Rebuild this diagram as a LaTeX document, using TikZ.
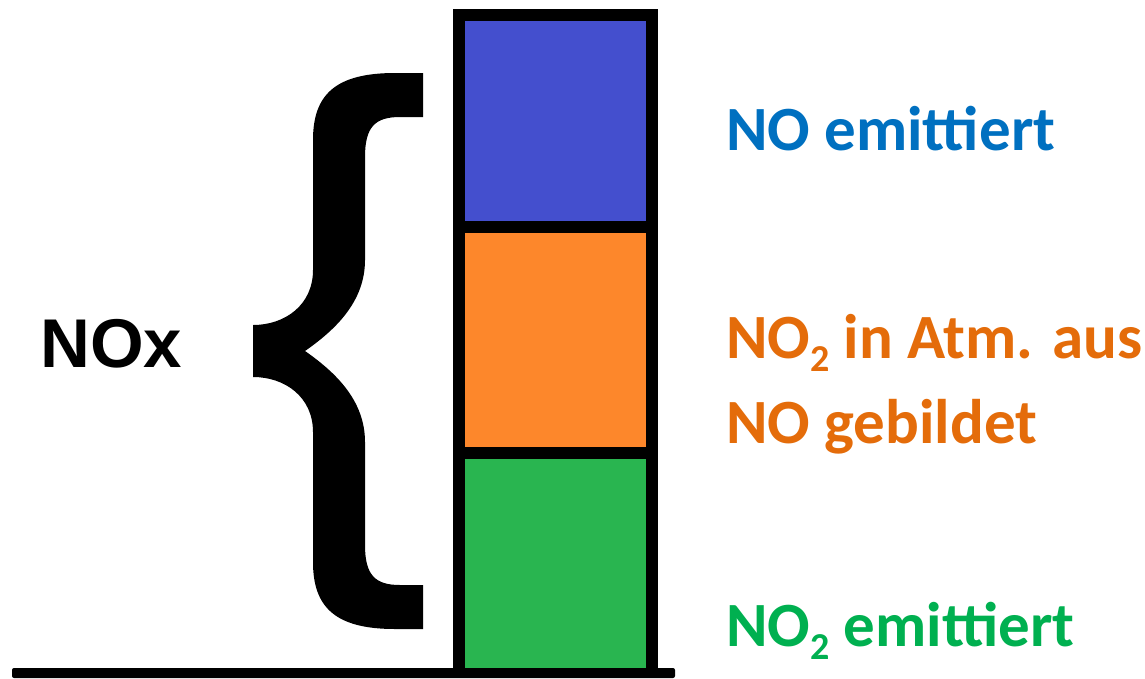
\documentclass[tikz,border=0pt]{standalone}
\usepackage{fontspec}
\setmainfont{Carlito}
\newfontfamily\arialfont{Liberation Sans}
\definecolor{boxblue}{RGB}{68,79,206}
\definecolor{boxorange}{RGB}{253,135,43}
\definecolor{boxgreen}{RGB}{41,181,80}
\definecolor{txtblue}{RGB}{0,112,192}
\definecolor{txtorange}{RGB}{228,108,10}
\definecolor{txtgreen}{RGB}{0,176,80}
\newcommand{\subtwo}{\raisebox{-0.22em}{\fontsize{38}{38}\selectfont 2}}
\begin{document}
\begin{tikzpicture}[x=1pt,y=-1pt,
  seg/.style={inner sep=0pt,outer sep=0pt,minimum width=181pt,anchor=north west},
  lbl/.style={anchor=base west,inner sep=0pt,font=\fontsize{63}{63}\selectfont\bfseries}]
\useasboundingbox (0,0) rectangle (1145,678);
% bar frame and baseline
\fill[black] (453,9) rectangle (658,672);
\fill[black,rounded corners=2pt] (12,668) rectangle (675,678);
% segments
\node[seg,fill=boxblue,minimum height=200pt] (blue) at (465,21) {};
\node[seg,fill=boxorange,minimum height=214pt] (orange) at (465,233) {};
\node[seg,fill=boxgreen,minimum height=209pt] (green) at (465,459) {};
% brace
\fill[black] (423,73) -- (395,73) .. controls (335,73) and (313,95) .. (313,140)
  -- (313,270) .. controls (313,305) and (285,325) .. (253,325)
  -- (253,377) .. controls (285,377) and (313,397) .. (313,432)
  -- (313,562) .. controls (313,607) and (335,629) .. (395,629)
  -- (423,629) -- (423,585) -- (400,585) .. controls (375,585) and (365,575) .. (365,545)
  -- (365,442) .. controls (365,400) and (335,372) .. (305,351)
  .. controls (335,330) and (365,302) .. (365,260)
  -- (365,157) .. controls (365,127) and (375,117) .. (400,117)
  -- (423,117) -- cycle;
% labels
\node[anchor=base west,inner sep=0pt,font=\arialfont\bfseries\fontsize{69}{69}\selectfont] (nox) at (40,367) {NOx};
\node[lbl,text=txtblue] (t1) at (726,150) {NO emittiert};
\node[lbl,text=txtorange] (t2) at (726,358) {NO\subtwo{} in Atm. aus};
\node[lbl,text=txtorange] (t3) at (726,443) {NO gebildet};
\node[lbl,text=txtgreen] (t4) at (726,646) {NO\subtwo{} emittiert};
\end{tikzpicture}
\end{document}
